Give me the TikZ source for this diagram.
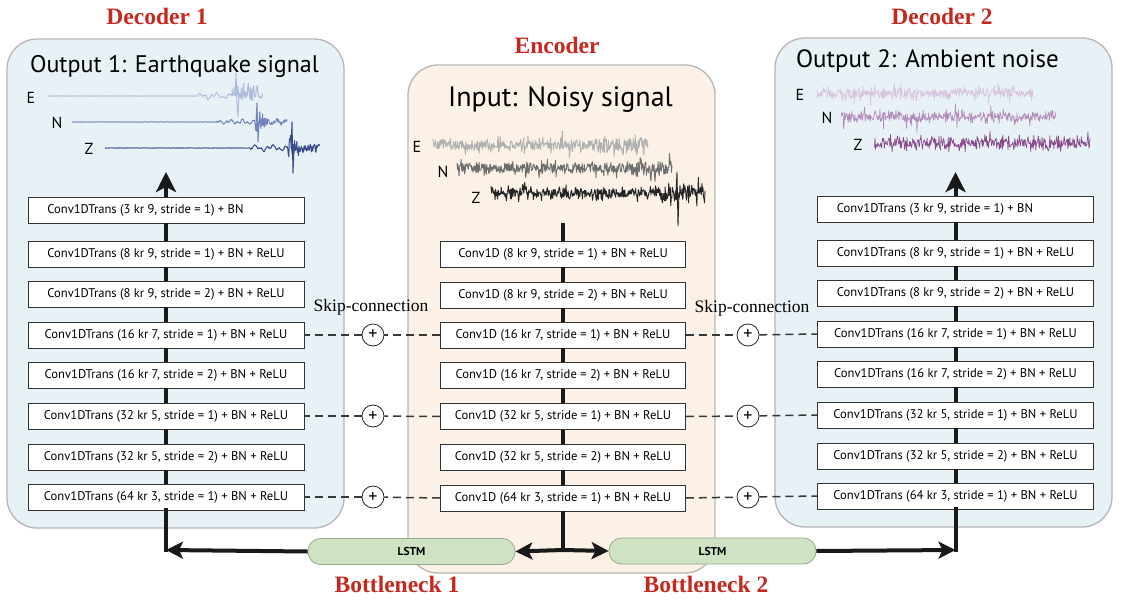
\documentclass[tikz,border=0pt]{standalone}
\usepackage{fontspec}
\setmainfont{Liberation Serif}
\newfontfamily\boxfont{PT Sans}
\usetikzlibrary{arrows.meta,calc}

\definecolor{decfill}{RGB}{232,242,246}
\definecolor{encfill}{RGB}{251,241,231}
\definecolor{panelborder}{RGB}{182,182,182}
\definecolor{titlered}{RGB}{196,40,30}
\definecolor{lstmfill}{RGB}{207,226,196}
\definecolor{lstmborder}{RGB}{150,168,140}
\definecolor{eqE}{RGB}{176,189,218}
\definecolor{eqN}{RGB}{114,130,186}
\definecolor{eqZ}{RGB}{58,74,140}
\definecolor{nzE}{RGB}{176,176,176}
\definecolor{nzN}{RGB}{110,110,110}
\definecolor{nzZ}{RGB}{36,36,36}
\definecolor{amE}{RGB}{216,196,220}
\definecolor{amN}{RGB}{180,140,188}
\definecolor{amZ}{RGB}{136,76,140}

\tikzset{
  panel/.style={draw=panelborder, line width=1.3pt, rounded corners=30pt},
  layer/.style={draw=black!80, line width=0.8pt, fill=white, minimum width=276pt,
    minimum height=26pt, inner sep=0pt, font=\boxfont\fontsize{12.6}{14}\selectfont},
  enclayer/.style={layer, minimum width=245pt},
  flow/.style={line width=4pt, draw=black!90},
  bigtip/.style={-{Stealth[length=20pt,width=20pt,inset=5pt]}},
  tip/.style={-{Stealth[length=17pt,width=17pt,inset=4pt]}},
  sumnode/.style={circle, draw=black!85, line width=0.8pt, minimum size=22pt, inner sep=0pt,
    fill=white, font=\boxfont\fontsize{18}{18}\selectfont},
  skip/.style={dash pattern=on 8pt off 5pt, line width=1.5pt, draw=black!78},
  skiplabel/.style={font=\fontsize{17.5}{20}\selectfont},
  lstm/.style={rounded corners=12.5pt, draw=lstmborder, line width=0.8pt, fill=lstmfill,
    minimum width=207pt, minimum height=26pt, inner sep=0pt,
    font=\boxfont\bfseries\fontsize{11.5}{13}\selectfont},
  redtitle/.style={text=titlered, anchor=base, font=\bfseries\fontsize{23.5}{28}\selectfont},
  paneltitle/.style={anchor=base, font=\boxfont\fontsize{24}{27}\selectfont},
  chan/.style={font=\boxfont\fontsize{16}{17}\selectfont},
  wave/.style={line width=0.7pt, line join=round},
  eqwave/.style={line width=1.0pt, line join=round},
  nwave/.style={line width=0.9pt, line join=round},
}

\begin{document}
\begin{tikzpicture}[x=1pt,y=-1pt]
\pgfmathsetseed{11}
\useasboundingbox (0,0) rectangle (1134,602);

% ---------- panels ----------
\draw[panel, fill=decfill] (7,39) rectangle (344,528);
\draw[panel, fill=encfill] (408,65) rectangle (715,573);
\draw[panel, fill=decfill] (775,38) rectangle (1112,527);

% ---------- red titles ----------
\node[redtitle] (tdec1) at (157,25) {Decoder 1};
\node[redtitle] (tenc)  at (557,53) {Encoder};
\node[redtitle] (tdec2) at (942,25) {Decoder 2};
\node[redtitle] (tbn1)  at (397,592) {Bottleneck 1};
\node[redtitle] (tbn2)  at (706,592) {Bottleneck 2};

% ---------- panel titles ----------
\node[paneltitle] (out1) at (174.5,72) {Output 1: Earthquake signal};
\node[paneltitle, font=\boxfont\fontsize{28}{30}\selectfont] (inp) at (560.5,106) {Input: Noisy signal};
\node[paneltitle, font=\boxfont\fontsize{25}{27}\selectfont] (out2) at (927.5,67) {Output 2: Ambient noise};

% ---------- channel labels ----------
\node[chan] (e1E) at (31,98) {E};
\node[chan] (e1N) at (57,123) {N};
\node[chan] (e1Z) at (89,149) {Z};
\node[chan] (enE) at (417,147) {E};
\node[chan] (enN) at (443,172) {N};
\node[chan] (enZ) at (476,198) {Z};
\node[chan] (e2E) at (800,95) {E};
\node[chan] (e2N) at (827,118) {N};
\node[chan] (e2Z) at (858,145) {Z};

% ---------- waveforms: decoder 1 (earthquake) ----------
\draw[eqE, eqwave] plot[samples=380, domain=48:263]
  (\x, {96 + ((\x<198) ? 0.15*rand : ((\x<232) ? (0.8*rand + 1.8*sin((\x-48)*23) + 1.4*sin((\x-48)*61+40)) : ((\x<258) ? (-4 + 8*rand + 4*rand*rand*rand) : 2.5*rand)))});
\draw[eqE, eqwave] (235,96) -- (236,73) -- (237,104) -- (238,117) -- (239,95);
\draw[eqN, eqwave] plot[samples=380, domain=72:287]
  (\x, {122 + ((\x<217) ? 0.15*rand : ((\x<255) ? (0.8*rand + 1.4*sin((\x-72)*29) + 1.2*sin((\x-72)*67+10)) : ((\x<268) ? (9*rand + 5*rand*rand*rand) : (2*rand + 2*sin((\x-72)*40)))))});
\draw[eqN, eqwave] (256,122) -- (257,103) -- (258,142) -- (259,122);
\draw[eqZ, eqwave] plot[samples=380, domain=105:320]
  (\x, {148 + ((\x<250) ? 0.15*rand : ((\x<288) ? (0.8*rand + 1.8*sin((\x-105)*21) + 1.4*sin((\x-105)*59+70)) : ((\x<299) ? (11*rand + 6*rand*rand*rand) : (4*rand + 4*rand*rand*rand))))});
\draw[eqZ, eqwave] (291,148) -- (292,122) -- (293,173) -- (294,148);

% ---------- waveforms: encoder (noisy) ----------
\draw[nzE, nwave] plot[samples=420, domain=433:648]
  (\x, {145 + ((\x<595) ? (4.5*rand + 12*rand*rand*rand) : (7*rand + 15*rand*rand*rand))});
\draw[nzN, nwave] plot[samples=420, domain=457:672]
  (\x, {168 + ((\x<630) ? (4.5*rand + 12*rand*rand*rand) : (7*rand + 15*rand*rand*rand))});
\draw[nzZ, nwave] plot[samples=420, domain=491:705]
  (\x, {193 + ((\x<660) ? (4.5*rand + 12*rand*rand*rand) : (8*rand + 16*rand*rand*rand))});
\draw[nzZ, nwave] (676,193) -- (677,172) -- (678,226) -- (679,193);

% ---------- waveforms: decoder 2 (ambient noise) ----------
\draw[amE, wave] plot[samples=420, domain=817:1033]
  (\x, {93 + 4.5*rand + 12*rand*rand*rand});
\draw[amN, wave] plot[samples=420, domain=841:1056]
  (\x, {117 + 4.5*rand + 13*rand*rand*rand});
\draw[amZ, wave] plot[samples=420, domain=874:1090]
  (\x, {143 + 5*rand + 14*rand*rand*rand});

% ---------- decoder 1 layers ----------
\node[layer] (da1) at (166,210) {Conv1DTrans (3 kr 9, stride = 1) + BN\phantom{ + ReLU}};
\node[layer] (da2) at (166,254) {Conv1DTrans (8 kr 9, stride = 1) + BN + ReLU};
\node[layer] (da3) at (166,294) {Conv1DTrans (8 kr 9, stride = 2) + BN + ReLU};
\node[layer] (da4) at (166,335) {Conv1DTrans (16 kr 7, stride = 1) + BN + ReLU};
\node[layer] (da5) at (166,375) {Conv1DTrans (16 kr 7, stride = 2) + BN + ReLU};
\node[layer] (da6) at (166,416) {Conv1DTrans (32 kr 5, stride = 1) + BN + ReLU};
\node[layer] (da7) at (166,457) {Conv1DTrans (32 kr 5, stride = 2) + BN + ReLU};
\node[layer] (da8) at (166,497) {Conv1DTrans (64 kr 3, stride = 1) + BN + ReLU};

% ---------- encoder layers ----------
\node[enclayer] (en1) at (563,254) {Conv1D (8 kr 9, stride = 1) + BN + ReLU};
\node[enclayer] (en2) at (563,295) {Conv1D (8 kr 9, stride = 2) + BN + ReLU};
\node[enclayer] (en3) at (563,335) {Conv1D (16 kr 7, stride = 1) + BN + ReLU};
\node[enclayer] (en4) at (563,375.5) {Conv1D (16 kr 7, stride = 2) + BN + ReLU};
\node[enclayer] (en5) at (563,416.5) {Conv1D (32 kr 5, stride = 1) + BN + ReLU};
\node[enclayer] (en6) at (563,457) {Conv1D (32 kr 5, stride = 2) + BN + ReLU};
\node[enclayer] (en7) at (563,498) {Conv1D (64 kr 3, stride = 1) + BN + ReLU};

% ---------- decoder 2 layers ----------
\node[layer] (db1) at (955.5,209) {Conv1DTrans (3 kr 9, stride = 1) + BN\phantom{ + ReLU}};
\node[layer] (db2) at (955.5,253) {Conv1DTrans (8 kr 9, stride = 1) + BN + ReLU};
\node[layer] (db3) at (955.5,293) {Conv1DTrans (8 kr 9, stride = 2) + BN + ReLU};
\node[layer] (db4) at (955.5,334) {Conv1DTrans (16 kr 7, stride = 1) + BN + ReLU};
\node[layer] (db5) at (955.5,374) {Conv1DTrans (16 kr 7, stride = 2) + BN + ReLU};
\node[layer] (db6) at (955.5,415) {Conv1DTrans (32 kr 5, stride = 1) + BN + ReLU};
\node[layer] (db7) at (955.5,456) {Conv1DTrans (32 kr 5, stride = 2) + BN + ReLU};
\node[layer] (db8) at (955.5,496) {Conv1DTrans (64 kr 3, stride = 1) + BN + ReLU};

% ---------- vertical flow lines ----------
\foreach \a/\b in {da1/da2,da2/da3,da3/da4,da4/da5,da5/da6,da6/da7,da7/da8,
                   en1/en2,en2/en3,en3/en4,en4/en5,en5/en6,en6/en7,
                   db1/db2,db2/db3,db3/db4,db4/db5,db5/db6,db6/db7,db7/db8}
  \draw[flow] (\a.south) -- (\b.north);

\coordinate (top1) at (166,172);
\coordinate (top2) at (955.5,172);
\draw[flow, bigtip] (da1.north) -- (top1);
\draw[flow, bigtip] (db1.north) -- (top2);

\coordinate (etop) at (563,223);
\draw[flow] (etop) -- (en1.north);

% ---------- bottleneck ----------
\node[lstm] (lstm1) at (411.5,551.5) {LSTM};
\node[lstm] (lstm2) at (712.5,551) {LSTM};

\coordinate (ebot) at (563,550);
\coordinate (c1) at (166,550);
\coordinate (c2) at (955.5,550);
\draw[flow] (en7.south) -- (ebot);
\draw[flow, tip] (ebot) -- (lstm1.east);
\draw[flow, tip] (ebot) -- (lstm2.west);
\draw[flow, tip] (lstm1.west) -- (c1);
\draw[flow, tip] (lstm2.east) -- (c2);
\draw[flow, line cap=rect] (c1) -- (da8.south);
\draw[flow, line cap=rect] (c2) -- (db8.south);

% ---------- skip connections ----------
\node[sumnode] (sl1) at (373,335) {+};
\node[sumnode] (sl2) at (373,416) {+};
\node[sumnode] (sl3) at (373,497) {+};
\node[sumnode] (sr1) at (748,335) {+};
\node[sumnode] (sr2) at (748,416) {+};
\node[sumnode] (sr3) at (748,497) {+};

\draw[skip] (en3.west) -- (sl1); \draw[skip] (sl1) -- (da4.east);
\draw[skip] (en5.west) -- (sl2); \draw[skip] (sl2) -- (da6.east);
\draw[skip] (en7.west) -- (sl3); \draw[skip] (sl3) -- (da8.east);
\draw[skip] (en3.east) -- (sr1); \draw[skip] (sr1) -- (db4.west);
\draw[skip] (en5.east) -- (sr2); \draw[skip] (sr2) -- (db6.west);
\draw[skip] (en7.east) -- (sr3); \draw[skip] (sr3) -- (db8.west);

\node[skiplabel] (skl) at (371,307) {Skip-connection};
\node[skiplabel] (skr) at (752,308) {Skip-connection};
\end{tikzpicture}
\end{document}
